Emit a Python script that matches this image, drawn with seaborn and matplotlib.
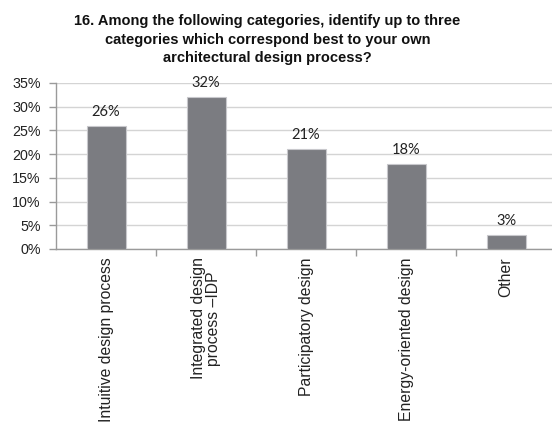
import matplotlib
matplotlib.use("Agg")
import matplotlib.pyplot as plt
import seaborn as sns
import pandas as pd
from matplotlib.ticker import MultipleLocator, FuncFormatter

categories = [
    "Intuitive design process",
    "Integrated design\nprocess \u2013IDP",
    "Participatory design",
    "Energy-oriented design",
    "Other",
]
shares = [26, 32, 21, 18, 3]
title = ("16. Among the following categories, identify up to three\n"
         "categories which correspond best to your own\n"
         "architectural design process?")

sns.set_theme(style="white")
plt.rcParams["font.family"] = ["Liberation Sans", "DejaVu Sans"]

df = pd.DataFrame({"category": categories, "share": shares})

fig = plt.figure(figsize=(5.52, 4.24), dpi=100)
W, H = 552, 424
ax = fig.add_axes([56 / W, 1 - 249 / H, 500 / W, (249 - 83) / H])

sns.barplot(data=df, x="category", y="share", color="#7b7c81",
            width=0.39, edgecolor="#c8c8cc", linewidth=0.8, saturation=1,
            ax=ax, zorder=3)

ax.set_ylim(0, 35)
ax.set_xlim(-0.5, 4.5)
ax.yaxis.set_major_locator(MultipleLocator(5))
ax.yaxis.set_major_formatter(FuncFormatter(lambda v, p: f"{v:.0f}%"))
ax.grid(axis="y", color="#d4d4d4", linewidth=1.0, zorder=0)
ax.set_axisbelow(True)

for s in ["top", "right"]:
    ax.spines[s].set_visible(False)
for s in ["left", "bottom"]:
    ax.spines[s].set_color("#9a9a9a")
    ax.spines[s].set_linewidth(1.0)

ax.tick_params(axis="y", length=5, width=1.0, color="#9a9a9a",
               labelsize=10.3, pad=6, left=True, labelcolor="#222222")
ax.set_xticks([i + 0.5 for i in range(4)], minor=True)
ax.tick_params(axis="x", which="major", length=0, pad=6)
ax.tick_params(axis="x", which="minor", length=5, width=1.0,
               color="#9a9a9a", bottom=True)
ax.set_xticks(range(len(categories)))
ax.set_xticklabels(categories, rotation=90, ha="center", va="top",
                   fontsize=11.3, color="#222222", linespacing=0.95)

for i, v in enumerate(shares):
    ax.annotate(f"{v}%", (i, v), xytext=(0, 5), textcoords="offset points",
                ha="center", va="bottom", fontsize=10.5, family="Lato",
                color="#222222")

ax.set_xlabel("")
ax.set_ylabel("")

fig.text(267.5 / W, 1 - 14.5 / H, title, ha="center", va="top",
         fontsize=10.5, fontweight="bold", color="#111111", linespacing=1.4)

fig.savefig("out.png", dpi=100)
